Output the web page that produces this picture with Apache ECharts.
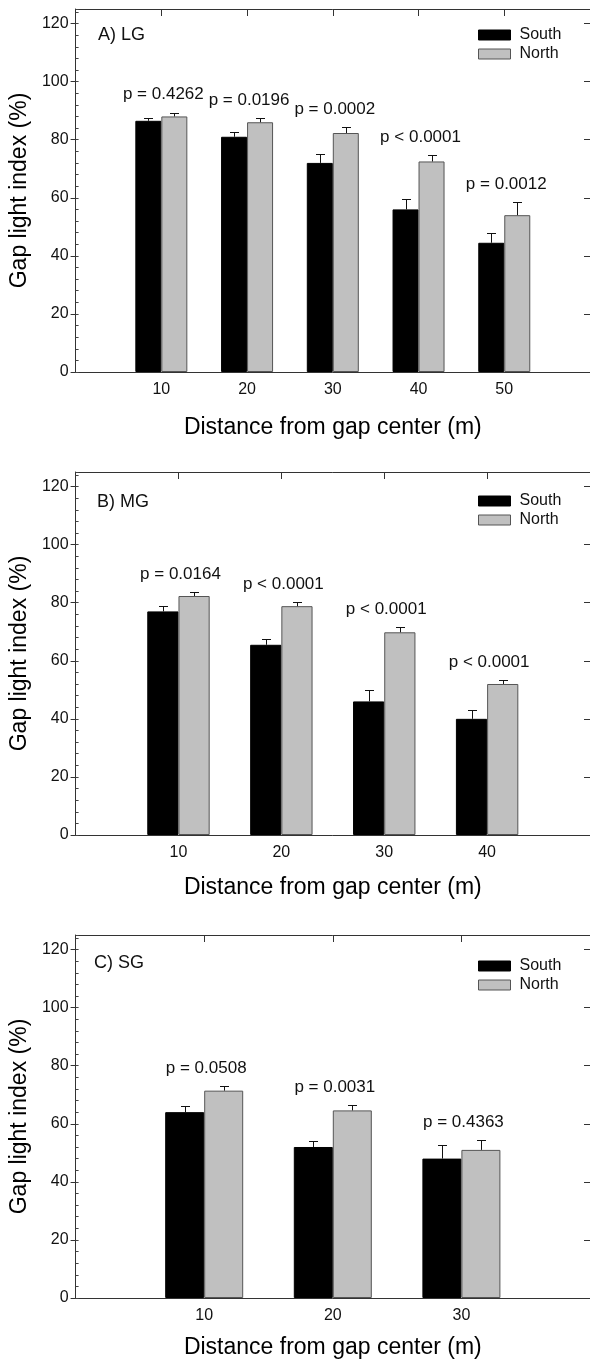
<!DOCTYPE html>
<html>
<head>
<meta charset="utf-8">
<script src="https://cdn.jsdelivr.net/npm/echarts@6/dist/echarts.min.js"></script>
<style>
  html, body { margin: 0; padding: 0; background: #fff; }
  #chart { width: 590px; height: 1363px; }
</style>
</head>
<body>
<div id="chart"></div>
<script>
// A) LG
const distA = [10, 20, 30, 40, 50];
const southA = [86.5, 81, 72, 56, 44.5];
const southErrA = [0.9, 1.7, 3.2, 3.6, 3.4];
const northA = [88, 86, 82.3, 72.5, 54];
const northErrA = [1.3, 1.5, 1.9, 2.1, 4.5];
const pA = ["p = 0.4262", "p = 0.0196", "p = 0.0002", "p < 0.0001", "p = 0.0012"];

// B) MG
const distB = [10, 20, 30, 40];
const southB = [77, 65.5, 46, 40];
const southErrB = [1.8, 2.1, 3.9, 2.9];
const northB = [82.3, 78.8, 69.8, 52];
const northErrB = [1.3, 1.3, 1.7, 1.4];
const pB = ["p = 0.0164", "p < 0.0001", "p < 0.0001", "p < 0.0001"];

// C) SG
const distC = [10, 20, 30];
const southC = [64, 52, 48];
const southErrC = [2.0, 2.1, 4.7];
const northC = [71.4, 64.6, 51];
const northErrC = [1.5, 1.7, 3.3];
const pC = ["p = 0.0508", "p = 0.0031", "p = 0.4363"];

const yTicks = [0, 20, 40, 60, 80, 100, 120];
const yMax = 125;

const FONT = '"Liberation Sans", Arial, sans-serif';
const GRID_LEFT = 75, GRID_W = 520, GRID_H = 363;

const panels = [
  { tag: "A) LG", dist: distA, south: southA, southErr: southErrA, north: northA, northErr: northErrA, p: pA,
    xMax: 60, top: 9, nameGap: 44, titleLeft: 98, titleTop: 26, legendTop: 27 },
  { tag: "B) MG", dist: distB, south: southB, southErr: southErrB, north: northB, northErr: northErrB, p: pB,
    xMax: 50, top: 472, nameGap: 41, titleLeft: 97, titleTop: 493, legendTop: 493 },
  { tag: "C) SG", dist: distC, south: southC, southErr: southErrC, north: northC, northErr: northErrC, p: pC,
    xMax: 40, top: 935, nameGap: 38, titleLeft: 94, titleTop: 954, legendTop: 958 }
];

const grid = [], xAxis = [], yAxis = [], series = [], title = [], legend = [];

panels.forEach((pn, i) => {
  grid.push({ left: GRID_LEFT, top: pn.top, width: GRID_W, height: GRID_H, containLabel: false });
  const xTicks = pn.dist;
  const bw = GRID_W / (pn.xMax / 10) * 0.3;

  // bottom axis with labels and title
  xAxis.push({
    type: "value", gridIndex: i, min: 0, max: pn.xMax, interval: 10, position: "bottom",
    axisLine: { onZero: false, lineStyle: { color: "#333", width: 1 } },
    axisTick: { show: false },
    splitLine: { show: false },
    axisLabel: {
      customValues: xTicks, margin: 10, fontSize: 16, color: "#111", fontFamily: FONT,
      formatter: v => (v > 0 && v < pn.xMax) ? String(v) : ""
    },
    name: "Distance from gap center (m)", nameLocation: "middle", nameGap: pn.nameGap,
    nameTextStyle: { fontSize: 23, color: "#000", fontFamily: FONT }
  });
  // top frame with inward ticks
  xAxis.push({
    type: "value", gridIndex: i, min: 0, max: pn.xMax, interval: 10, position: "top",
    axisLine: { onZero: false, lineStyle: { color: "#333", width: 1 } },
    axisTick: { inside: true, length: 7, customValues: xTicks, lineStyle: { color: "#333" } },
    axisLabel: { show: false }, splitLine: { show: false }
  });

  // left axis: labels + outward major ticks
  yAxis.push({
    type: "value", gridIndex: i, min: 0, max: yMax, interval: 20, position: "left",
    axisLine: { show: true, onZero: false, lineStyle: { color: "#333", width: 1 } },
    axisTick: { show: true, length: 5, customValues: yTicks, lineStyle: { color: "#333" } },
    splitLine: { show: false },
    axisLabel: {
      customValues: yTicks, margin: 7, fontSize: 16, color: "#111", fontFamily: FONT,
      formatter: v => (v % 20 === 0) ? String(v) : ""
    },
    name: "Gap light index (%)", nameLocation: "middle", nameGap: 41, nameRotate: 90,
    nameTextStyle: { fontSize: 23, color: "#000", fontFamily: FONT }
  });
  // left axis: inward minor ticks
  yAxis.push({
    type: "value", gridIndex: i, min: 0, max: yMax, interval: 4, position: "left",
    axisLine: { show: false, onZero: false },
    axisTick: { show: true, inside: true, length: 3, lineStyle: { color: "#444" } },
    axisLabel: { show: false }, splitLine: { show: false }
  });
  // right frame with inward ticks
  yAxis.push({
    type: "value", gridIndex: i, min: 0, max: yMax, interval: 20, position: "right",
    axisLine: { show: true, onZero: false, lineStyle: { color: "#333", width: 1 } },
    axisTick: { show: true, inside: true, length: 6, customValues: yTicks, lineStyle: { color: "#333" } },
    axisLabel: { show: false }, splitLine: { show: false }
  });

  const xb = 2 * i, yb = 3 * i;

  series.push({
    name: "South", type: "bar", xAxisIndex: xb, yAxisIndex: yb,
    barWidth: bw, barGap: "0%",
    itemStyle: { color: "#000", borderColor: "#000", borderWidth: 1 },
    data: pn.dist.map((d, k) => [d, pn.south[k]])
  });
  series.push({
    name: "North", type: "bar", xAxisIndex: xb, yAxisIndex: yb,
    barWidth: bw, barGap: "0%",
    itemStyle: { color: "#c0c0c0", borderColor: "#555", borderWidth: 1 },
    data: pn.dist.map((d, k) => [d, pn.north[k]])
  });

  // error bars (upper whisker only)
  [[pn.south, pn.southErr, -1], [pn.north, pn.northErr, 1]].forEach(([vals, errs, side]) => {
    series.push({
      type: "custom", xAxisIndex: xb, yAxisIndex: yb, z: 5, silent: true,
      data: pn.dist.map((d, k) => [d, vals[k], errs[k]]),
      renderItem: (params, api) => {
        const base = api.coord([api.value(0), api.value(1)]);
        const top = api.coord([api.value(0), api.value(1) + api.value(2)]);
        const cx = Math.round(base[0] + side * bw / 2) + 0.5;
        const ty = Math.round(top[1]) + 0.5;
        return {
          type: "group",
          children: [
            { type: "line", shape: { x1: cx, y1: base[1], x2: cx, y2: ty }, style: { stroke: "#111", lineWidth: 1 } },
            { type: "line", shape: { x1: cx - 4.5, y1: ty, x2: cx + 4.5, y2: ty }, style: { stroke: "#111", lineWidth: 1 } }
          ]
        };
      }
    });
  });

  // p-value labels above each pair
  series.push({
    type: "custom", xAxisIndex: xb, yAxisIndex: yb, z: 6, silent: true,
    data: pn.dist.map((d, k) => [d, Math.max(pn.south[k] + pn.southErr[k], pn.north[k] + pn.northErr[k])]),
    renderItem: (params, api) => {
      const pt = api.coord([api.value(0), api.value(1)]);
      return {
        type: "text",
        style: {
          text: pn.p[params.dataIndex], x: pt[0] + 2, y: pt[1] - 18,
          align: "center", verticalAlign: "middle",
          font: "17px " + FONT, fill: "#111"
        }
      };
    }
  });

  title.push({
    text: pn.tag, left: pn.titleLeft, top: pn.titleTop, padding: 0,
    textStyle: { fontSize: 18, fontWeight: "normal", color: "#111", fontFamily: FONT }
  });

  legend.push({
    left: 478, top: pn.legendTop, orient: "vertical", padding: 0, itemGap: 3,
    itemWidth: 32, itemHeight: 10, icon: "rect", selectedMode: false,
    textStyle: { fontSize: 16, color: "#111", fontFamily: FONT, padding: [0, 0, 0, 4] },
    data: [
      { name: "South", itemStyle: { color: "#000", borderColor: "#000", borderWidth: 1 } },
      { name: "North", itemStyle: { color: "#c0c0c0", borderColor: "#555", borderWidth: 1 } }
    ]
  });
});

const chart = echarts.init(document.getElementById("chart"), null, { renderer: "canvas" });
chart.setOption({
  animation: false,
  backgroundColor: "#fff",
  title, legend, grid, xAxis, yAxis, series
});
</script>
</body>
</html>
